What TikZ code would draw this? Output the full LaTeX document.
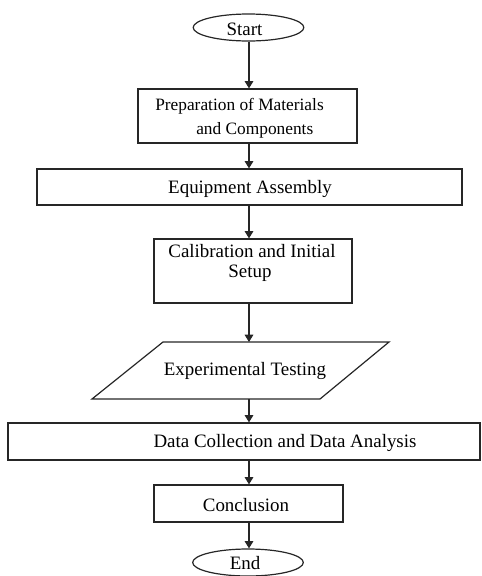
\documentclass[tikz,border=0pt]{standalone}
\usepackage{fontspec}
\setmainfont{Liberation Serif}
\usetikzlibrary{arrows.meta,shapes.geometric}
\begin{document}
\begin{tikzpicture}[x=0.75pt,y=-0.75pt,
  shapeline/.style={draw=black!85,line width=0.9pt},
  box/.style={shapeline,rectangle,inner sep=0pt},
  oval/.style={shapeline,ellipse,inner sep=0pt,minimum width=83pt,minimum height=20.25pt},
  txt/.style={font=\fontsize{14.2}{17}\selectfont,inner sep=0pt,anchor=base},
  txtsmall/.style={font=\fontsize{13}{16}\selectfont,inner sep=0pt,anchor=base west},
  flow/.style={draw=black!85,line width=0.9pt,-{Triangle[length=5.5pt,width=6.5pt]}}]
\useasboundingbox (0,0) rectangle (482,576);
\coordinate (axis) at (249,0);

% terminals
\node[oval] (start) at (248.5,27.5) {};
\node[txt] (startT) at (244.5,35) {Start};
\node[oval] (end) at (248,562.5) {};
\node[txt] (endT) at (245,569) {End};

% process boxes
\node[box,minimum width=164.25pt,minimum height=40.5pt] (prep) at (247.5,116) {};
\node[txtsmall] (prepA) at (155,110.5) {Preparation of Materials};
\node[txtsmall] (prepB) at (196,134) {and Components};

\node[box,minimum width=318.75pt,minimum height=27pt] (equip) at (249.5,187) {};
\node[txt] (equipT) at (250,193) {Equipment Assembly};

\node[box,minimum width=148.5pt,minimum height=48pt] (calib) at (253,271) {};
\node[txt] (calibA) at (252,257) {Calibration and Initial};
\node[txt] (calibB) at (250,277.5) {Setup};

% input/output parallelogram
\coordinate (expTL) at (163,342);
\coordinate (expTR) at (389,342);
\coordinate (expBR) at (320,399);
\coordinate (expBL) at (92,399);
\draw[shapeline] (expBL) -- (expTL) -- (expTR) -- (expBR) -- cycle;
\node[txt] (expT) at (245,375) {Experimental Testing};

\node[box,minimum width=354pt,minimum height=27.75pt] (data) at (244,441.5) {};
\node[txt] (dataT) at (285,447) {Data Collection and Data Analysis};

\node[box,minimum width=141.75pt,minimum height=27.75pt] (concl) at (248.5,503.5) {};
\node[txt] (conclT) at (246,511) {Conclusion};

% connectors
\draw[flow] (start.south -| axis) -- (prep.north -| axis);
\draw[flow] (prep.south -| axis) -- (equip.north -| axis);
\draw[flow] (equip.south -| axis) -- (calib.north -| axis);
\draw[flow] (calib.south -| axis) -- (expTL -| axis);
\draw[flow] (expBL -| axis) -- (data.north -| axis);
\draw[flow] (data.south -| axis) -- (concl.north -| axis);
\draw[flow] (concl.south -| axis) -- (end.north -| axis);
\end{tikzpicture}
\end{document}
